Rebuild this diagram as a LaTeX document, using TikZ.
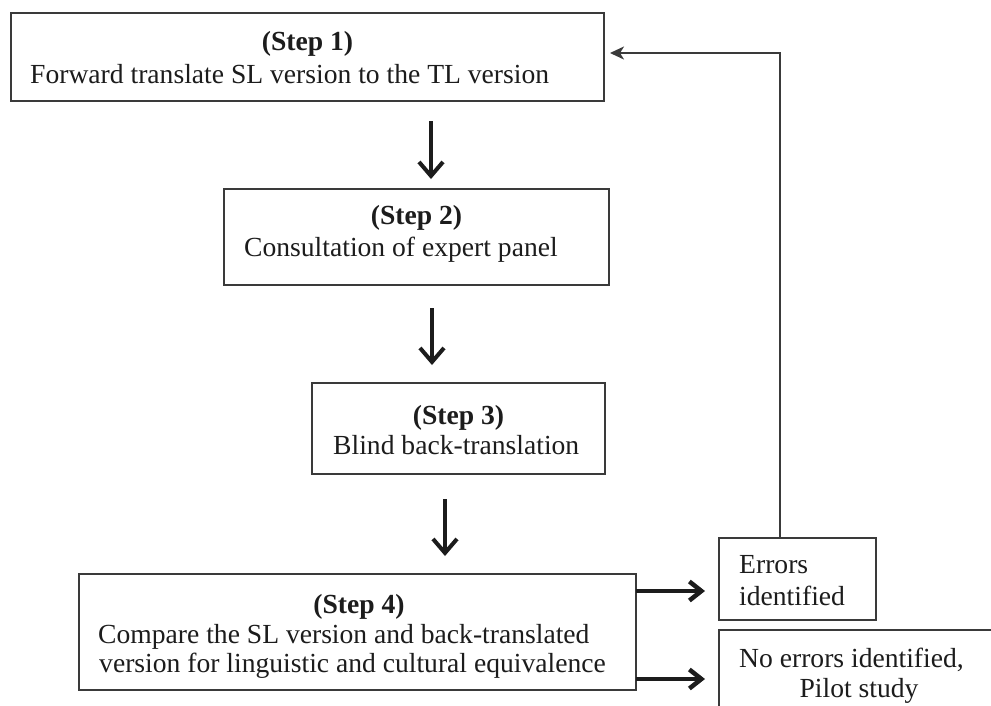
\documentclass[tikz,border=0pt]{standalone}
\usepackage{fontspec}
\setmainfont{Liberation Serif}
\usetikzlibrary{arrows.meta}
\definecolor{ink}{HTML}{1C1C1C}
\definecolor{frame}{HTML}{3A3A3A}
\begin{document}
\begin{tikzpicture}[x=1pt,y=-1pt,
  box/.style={draw=frame, line width=2pt, rectangle, inner sep=0pt, outer sep=0pt},
  title/.style={anchor=base, inner sep=0pt, text=ink,
    font=\fontsize{27.6}{33}\selectfont\bfseries},
  body/.style={anchor=base west, inner sep=0pt, text=ink,
    font=\fontsize{27.6}{33}\selectfont},
  midtext/.style={anchor=base, inner sep=0pt, text=ink,
    font=\fontsize{27.6}{33}\selectfont},
  downarrow/.style={line width=4pt, draw=ink,
    -{Straight Barb[length=14pt,width=24pt]}},
  sidearrow/.style={line width=4.5pt, draw=ink,
    -{Straight Barb[length=12pt,width=19pt]}},
  feedback/.style={line width=2pt, draw=frame,
    -{Stealth[length=14pt,width=13pt,inset=4pt]}}
]
\useasboundingbox (0,0) rectangle (991,705);
\fill[white] (0,0) rectangle (991,705);
\clip (0,0) rectangle (991,705);

% process boxes
\node[box, minimum width=593pt, minimum height=88pt]  (s1) at (307.5,57)  {};
\node[box, minimum width=385pt, minimum height=96pt]  (s2) at (416.5,237) {};
\node[box, minimum width=293pt, minimum height=91pt]  (s3) at (458.5,428.5) {};
\node[box, minimum width=557pt, minimum height=116pt] (s4) at (357.5,632) {};
\node[box, minimum width=157pt, minimum height=82pt]  (err) at (797.5,579) {};
\node[box, minimum width=300pt, minimum height=110pt] (ok) at (869,685) {};

% box texts
\node[title] (s1t) at (307.5,50) {(Step 1)};
\node[body]  (s1b) at (30,83) {Forward translate SL version to the TL version};

\node[title] (s2t) at (416.5,224) {(Step 2)};
\node[body]  (s2b) at (244,256) {Consultation of expert panel};

\node[title] (s3t) at (458.5,424) {(Step 3)};
\node[body]  (s3b) at (333,454) {Blind back-translation};

\node[title] (s4t) at (359,613) {(Step 4)};
\node[body]  (s4b) at (98,643) {Compare the SL version and back-translated};
\node[body]  (s4c) at (99,672) {version for linguistic and cultural equivalence};

\node[body] (errt) at (739,573) {Errors};
\node[body] (errb) at (739,605) {identified};

\node[body]    (okt) at (739,667) {No errors identified,};
\node[midtext] (okb) at (859,697) {Pilot study};

% arrow guide positions
\coordinate (c12) at (431,0);
\coordinate (c23) at (432,0);
\coordinate (c34) at (445,0);
\coordinate (r1) at (0,591);
\coordinate (r2) at (0,679);
\coordinate (fb) at (780,53);

% step-to-step arrows
\draw[downarrow, shorten <=20pt, shorten >=10pt] (s1.south -| c12) -- (s2.north -| c12);
\draw[downarrow, shorten <=23pt, shorten >=18pt] (s2.south -| c23) -- (s3.north -| c23);
\draw[downarrow, shorten <=25pt, shorten >=18pt] (s3.south -| c34) -- (s4.north -| c34);

% outcome arrows
\draw[sidearrow, shorten >=14pt] (s4.east |- r1) -- (err.west |- r1);
\draw[sidearrow, shorten >=14pt] (s4.east |- r2) -- (ok.west |- r2);

% loop back to step 1
\draw[feedback, shorten >=6pt] (err.north -| fb) |- (s1.east |- fb);
\end{tikzpicture}
\end{document}
